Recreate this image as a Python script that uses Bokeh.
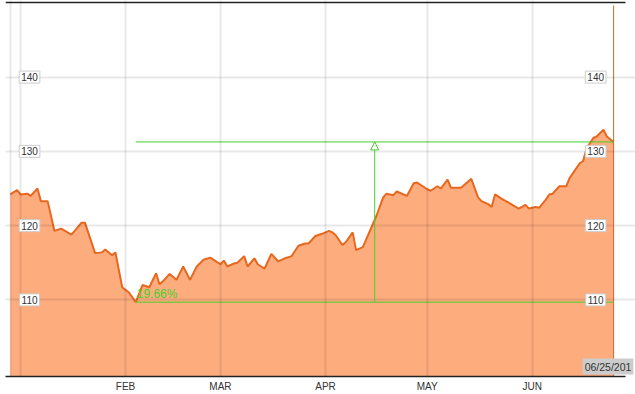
import pandas as pd
from bokeh.plotting import figure
from bokeh.models import (Label, Arrow, NormalHead, FixedTicker, Grid,
                          Range1d, ColumnDataSource)
from bokeh.embed import file_html
from bokeh.resources import INLINE

# ---- data ----
dates = ["2013-12-29", "2013-12-31", "2014-01-01", "2014-01-03", "2014-01-04", "2014-01-06",
         "2014-01-07", "2014-01-09", "2014-01-11", "2014-01-13", "2014-01-16", "2014-01-17",
         "2014-01-19", "2014-01-20", "2014-01-23", "2014-01-25", "2014-01-26", "2014-01-28",
         "2014-01-29", "2014-01-31", "2014-02-02", "2014-02-04", "2014-02-06", "2014-02-08",
         "2014-02-10", "2014-02-11", "2014-02-12", "2014-02-14", "2014-02-16", "2014-02-18",
         "2014-02-20", "2014-02-22", "2014-02-24", "2014-02-26", "2014-02-27", "2014-03-01",
         "2014-03-02", "2014-03-03", "2014-03-05", "2014-03-06", "2014-03-08", "2014-03-09",
         "2014-03-11", "2014-03-12", "2014-03-14", "2014-03-16", "2014-03-18", "2014-03-20",
         "2014-03-22", "2014-03-24", "2014-03-26", "2014-03-27", "2014-03-29", "2014-03-31",
         "2014-04-02", "2014-04-03", "2014-04-04", "2014-04-06", "2014-04-07", "2014-04-09",
         "2014-04-10", "2014-04-12", "2014-04-16", "2014-04-18", "2014-04-19", "2014-04-21",
         "2014-04-22", "2014-04-25", "2014-04-27", "2014-04-28", "2014-05-01", "2014-05-02",
         "2014-05-04", "2014-05-05", "2014-05-07", "2014-05-08", "2014-05-11", "2014-05-14",
         "2014-05-16", "2014-05-17", "2014-05-19", "2014-05-20", "2014-05-21", "2014-05-23",
         "2014-05-25", "2014-05-28", "2014-05-30", "2014-05-31", "2014-06-02", "2014-06-03",
         "2014-06-05", "2014-06-06", "2014-06-07", "2014-06-09", "2014-06-11", "2014-06-12",
         "2014-06-15", "2014-06-16", "2014-06-17", "2014-06-19", "2014-06-20", "2014-06-22",
         "2014-06-23", "2014-06-25"]
values = [124.2, 124.8, 124.2, 124.3, 124.0, 125.0,
          123.3, 123.3, 119.3, 119.6, 118.8, 119.3,
          120.4, 120.4, 116.3, 116.4, 116.8, 116.0,
          116.4, 111.7, 111.0, 109.7, 112.0, 111.7,
          113.6, 112.1, 112.5, 113.5, 112.7, 114.5,
          112.7, 114.5, 115.4, 115.7, 115.4, 114.8,
          115.3, 114.5, 114.9, 115.0, 115.9, 114.5,
          115.6, 114.8, 114.2, 116.2, 115.2, 115.6,
          115.9, 117.3, 117.6, 117.6, 118.6, 118.9,
          119.3, 119.1, 118.7, 117.4, 117.8, 119.1,
          116.7, 117.1, 121.3, 123.8, 124.3, 124.1,
          124.6, 124.0, 125.7, 125.8, 124.9, 124.7,
          125.3, 125.0, 126.2, 125.1, 125.1, 126.3,
          123.8, 123.3, 122.9, 122.5, 124.2, 123.6,
          123.1, 122.3, 122.8, 122.3, 122.5, 122.4,
          123.5, 124.2, 124.3, 125.3, 125.3, 126.4,
          128.4, 128.7, 130.4, 131.8, 132.0, 132.9,
          132.0, 131.27]
month_starts = ["2014-02-01", "2014-03-01", "2014-04-01", "2014-05-01", "2014-06-01"]
month_labels = ["FEB", "MAR", "APR", "MAY", "JUN"]
y_ticks = [110, 120, 130, 140]
last_label = "06/25/201"

# ---- derived ----
base = pd.Timestamp("2014-01-01")
def to_day(s):
    return (pd.Timestamp(s) - base).days

days = [to_day(d) for d in dates]
mdays = [to_day(d) for d in month_starts]
src = ColumnDataSource(dict(x=days, y=values))

low_i = min(range(len(values)), key=lambda i: values[i])
low_x, low_y = days[low_i], values[low_i]
last_x, last_y = days[-1], values[-1]
pct = (last_y / low_y - 1) * 100

GREEN = "#45D12C"
ORANGE = "#E8671E"
FILL = "#FDAC7E"

X0, X1, XEND = -4.43, 178.5, 181.45   # x1: where the framing lines stop
Y0, YTOP, YEND = 99.69, 150.04, 150.31

p = figure(width=635, height=394, output_backend="svg", toolbar_location=None,
           x_range=Range1d(X0, XEND), y_range=Range1d(Y0, YEND),
           y_axis_location=None, min_border_left=5, min_border_right=0,
           min_border_top=0, min_border_bottom=16)
p.outline_line_color = None
p.background_fill_color = "white"
p.grid.visible = False

# grids (drawn over the area)
gx = Grid(dimension=0, ticker=FixedTicker(ticks=[days[0], 0] + mdays),
          grid_line_color="black", grid_line_alpha=0.09, grid_line_width=2, level="guide",
          bounds=(Y0, YTOP))
gy = Grid(dimension=1, ticker=FixedTicker(ticks=y_ticks),
          grid_line_color="black", grid_line_alpha=0.09, grid_line_width=2, level="guide",
          bounds=(days[0], X1 - 1.5))
p.add_layout(gx, "center")
p.add_layout(gy, "center")

# area + line
p.varea(x="x", y1=90, y2="y", source=src, fill_color=FILL)
p.line(x="x", y="y", source=src, line_color=ORANGE, line_width=2)

# x axis
ax = p.xaxis[0]
ax.ticker = FixedTicker(ticks=mdays)
ax.bounds = (X0, X1)
ax.major_label_overrides = {d: l for d, l in zip(mdays, month_labels)}
ax.major_tick_out = 0
ax.major_tick_in = 0
ax.minor_tick_out = 0
ax.minor_tick_in = 0
ax.axis_line_color = "#222222"
ax.axis_line_width = 1.5
ax.major_label_standoff = 4
ax.major_label_text_font = "Liberation Sans"
ax.major_label_text_font_size = "10px"
ax.major_label_text_color = "#333333"

# top border line
p.segment(x0=[X0], y0=[YTOP], x1=[X1], y1=[YTOP], line_color="#222222", line_width=1.5)

# cursor line at last date
p.segment(x0=[last_x], y0=[Y0], x1=[last_x], y1=[YTOP - 0.4], line_color="#C9652F", line_width=1)

# y value labels in boxes, left and right
for t in y_ticks:
    for xpos in (2.66, 169.7):
        p.add_layout(Label(x=xpos, y=t, text=str(t), text_align="center",
                           text_baseline="middle", text_font="Liberation Sans",
                           text_font_size="10px", text_color="#333333",
                           background_fill_color="white", border_line_color="#cccccc",
                           padding=2))

# green measurement
p.segment(x0=[low_x, low_x], y0=[low_y, last_y], x1=[last_x, last_x], y1=[low_y, last_y],
          line_color=GREEN, line_width=1)
mid_x = (low_x + last_x) / 2
p.add_layout(Arrow(x_start=mid_x, y_start=low_y, x_end=mid_x, y_end=last_y,
                   line_color=GREEN, line_width=1,
                   end=NormalHead(size=8, fill_color="white", line_color=GREEN, line_width=1)))
p.add_layout(Label(x=low_x, y=low_y, x_offset=1, y_offset=1, text=f"{pct:.2f}%",
                   text_font="Liberation Sans", text_font_size="12px", text_color=GREEN,
                   text_baseline="bottom", text_align="left"))

# last-date tag
p.add_layout(Label(x=last_x, y=Y0, x_offset=-31, y_offset=2, text=last_label,
                   text_font="Liberation Sans", text_font_size="10.5px", text_color="#333333",
                   text_baseline="bottom", text_align="left",
                   background_fill_color="#cccccc", padding=2))

open("out.html", "w").write(file_html(p, INLINE))
